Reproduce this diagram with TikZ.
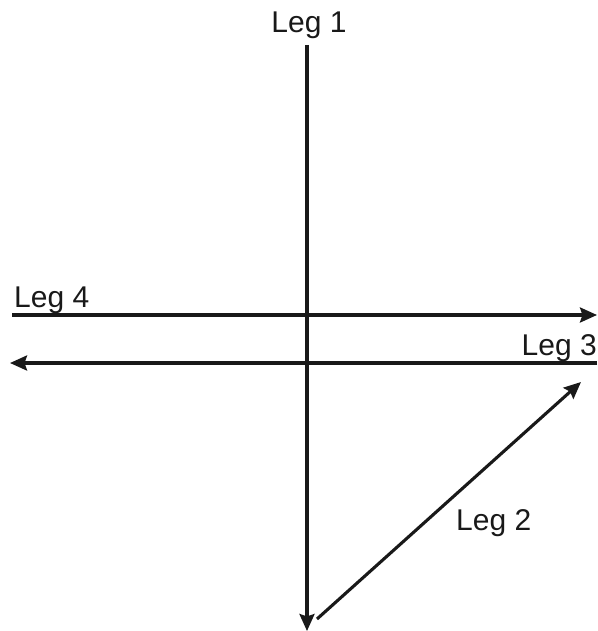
\documentclass[tikz,border=0pt]{standalone}
\usepackage{fontspec}
\setmainfont{Liberation Sans}
\usetikzlibrary{arrows.meta}
\begin{document}
\begin{tikzpicture}[x=1pt,y=-1pt,
  leg/.style={line width=3.1pt,draw=black!90,-{Stealth[length=17pt,width=15pt,inset=2.5pt]}},
  lbl/.style={inner sep=0pt,text=black!90,font=\fontsize{30}{35}\selectfont}]
\useasboundingbox (0,0) rectangle (597,631);
\coordinate (vt) at (307,45);
\coordinate (vb) at (307,631);
\coordinate (h1l) at (12,315);
\coordinate (h1r) at (597,315);
\coordinate (h2r) at (597,363);
\coordinate (h2l) at (10,363);
\coordinate (ds) at (317,619);
\coordinate (de) at (581,382);
\draw[leg] (vt) -- (vb);
\draw[leg] (h1l) -- (h1r);
\draw[leg] (h2r) -- (h2l);
\draw[leg] (ds) -- (de);
\node[lbl,anchor=base] (l1) at (309,33) {Leg 1};
\node[lbl,anchor=base west] (l4) at (14,307) {Leg 4};
\node[lbl,anchor=base east] (l3) at (597,355) {Leg 3};
\node[lbl,anchor=base west] (l2) at (456,530) {Leg 2};
\end{tikzpicture}
\end{document}
